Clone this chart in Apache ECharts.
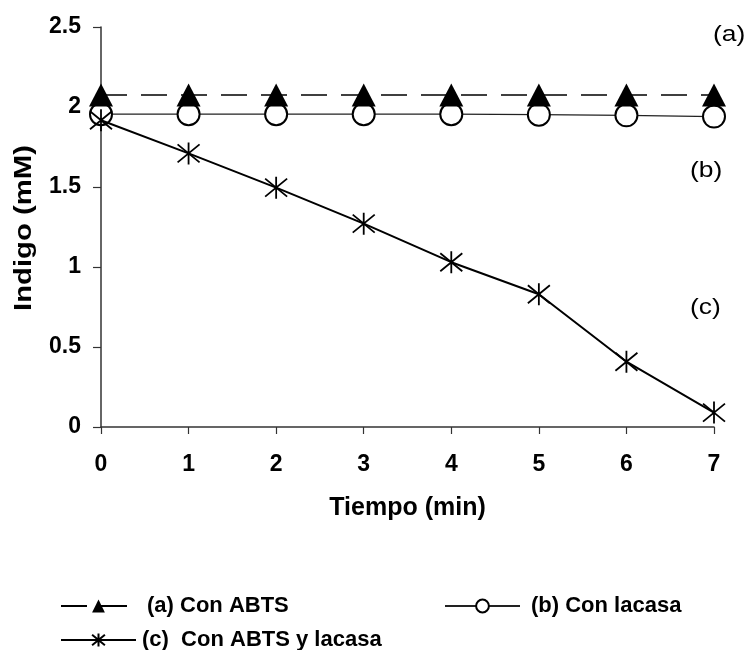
<!DOCTYPE html>
<html>
<head>
<meta charset="utf-8">
<script src="https://cdn.jsdelivr.net/npm/echarts@6/dist/echarts.min.js"></script>
<style>
  html, body { margin: 0; padding: 0; background: #fff; }
  #chart { width: 746px; height: 650px; }
</style>
</head>
<body>
<div id="chart"></div>
<script>
// Time (min) and indigo concentration (mM) for each treatment
const tiempo = [0, 1, 2, 3, 4, 5, 6, 7];
const conABTS = [2.075, 2.075, 2.075, 2.075, 2.075, 2.075, 2.075, 2.075];
const conLacasa = [1.955, 1.955, 1.955, 1.955, 1.955, 1.952, 1.948, 1.94];
const conABTSyLacasa = [1.917, 1.71, 1.496, 1.271, 1.03, 0.83, 0.408, 0.09];

const seriesNames = ['(a) Con ABTS', '(b) Con lacasa', '(c)  Con ABTS y lacasa'];
const curveTags = ['(a)', '(b)', '(c)'];
const xTitle = 'Tiempo (min)';
const yTitle = 'Indigo (mM)';

const FONT = '"Liberation Sans", Arial, Helvetica, sans-serif';

// Six-armed asterisk marker (vertical bar plus an X)
const asterisk = 'path://M0,-11L0,11M-11,-9L11,9M-11,9L11,-9';

const pairs = (ys) => tiempo.map((t, i) => [t, ys[i]]);

const chart = echarts.init(document.getElementById('chart'));

chart.setOption({
  backgroundColor: '#fff',
  animation: false,
  grid: { left: 101, right: 32, top: 27, bottom: 223, outerBoundsMode: 'none' },
  xAxis: {
    type: 'value', min: 0, max: 7, interval: 1,
    name: xTitle, nameLocation: 'middle', nameGap: 69,
    nameTextStyle: { fontFamily: FONT, fontWeight: 'bold', fontSize: 25, color: '#000' },
    axisLine: { show: true, lineStyle: { color: '#333', width: 1.5 } },
    axisTick: { show: true, length: 7, lineStyle: { color: '#333', width: 1.2 } },
    axisLabel: { margin: 26, fontFamily: FONT, fontWeight: 'bold', fontSize: 23, color: '#000' },
    splitLine: { show: false }
  },
  yAxis: {
    type: 'value', min: 0, max: 2.5, interval: 0.5,
    axisLine: { show: true, lineStyle: { color: '#333', width: 1.5 } },
    axisTick: { show: true, length: 8, lineStyle: { color: '#333', width: 1.2 } },
    axisLabel: { margin: 20, fontFamily: FONT, fontWeight: 'bold', fontSize: 23, color: '#000' },
    splitLine: { show: false }
  },
  legend: [
    { data: [seriesNames[0]], left: 60, top: 595 },
    { data: [seriesNames[1]], left: 444, top: 595 },
    { data: [seriesNames[2]], left: 60, top: 629, textStyle: { padding: [0, 0, 0, 1] } }
  ].map((l) => ({
    orient: 'horizontal', itemWidth: 75, itemHeight: 16, padding: 0,
    left: l.left, top: l.top, data: l.data,
    textStyle: Object.assign({ fontFamily: FONT, fontWeight: 'bold', fontSize: 22, color: '#000', padding: [0, 0, 0, 6] }, l.textStyle || {})
  })),
  series: [
    {
      name: seriesNames[0], type: 'line', data: pairs(conABTS),
      symbol: 'triangle', symbolSize: [24, 23],
      lineStyle: { color: '#000', width: 1.3, type: [26, 14] },
      itemStyle: { color: '#000' },
      z: 3
    },
    {
      name: seriesNames[1], type: 'line', data: pairs(conLacasa),
      symbol: 'emptyCircle', symbolSize: 22,
      lineStyle: { color: '#222', width: 1.3 },
      itemStyle: { color: '#000', borderColor: '#000', borderWidth: 1.6 },
      z: 2
    },
    {
      name: seriesNames[2], type: 'line', data: pairs(conABTSyLacasa),
      symbol: asterisk, symbolSize: 22,
      lineStyle: { color: '#000', width: 2 },
      itemStyle: { color: '#000', borderColor: '#000', borderWidth: 1.8 },
      z: 4
    }
  ],
  graphic: [
    // vertical axis title, reading bottom to top
    { type: 'text', x: 24, y: 228, rotation: Math.PI / 2, scaleX: 1.22,
      style: { text: yTitle, font: 'bold 24px ' + FONT, fill: '#000', align: 'center', verticalAlign: 'middle' } },
    // curve tags at the right edge of the plot
    { type: 'text', x: 713, y: 35, scaleX: 1.2,
      style: { text: curveTags[0], font: '22px ' + FONT, fill: '#000', verticalAlign: 'middle' } },
    { type: 'text', x: 690, y: 171, scaleX: 1.2,
      style: { text: curveTags[1], font: '22px ' + FONT, fill: '#000', verticalAlign: 'middle' } },
    { type: 'text', x: 690, y: 308, scaleX: 1.2,
      style: { text: curveTags[2], font: '22px ' + FONT, fill: '#000', verticalAlign: 'middle' } }
  ]
});
</script>
</body>
</html>
